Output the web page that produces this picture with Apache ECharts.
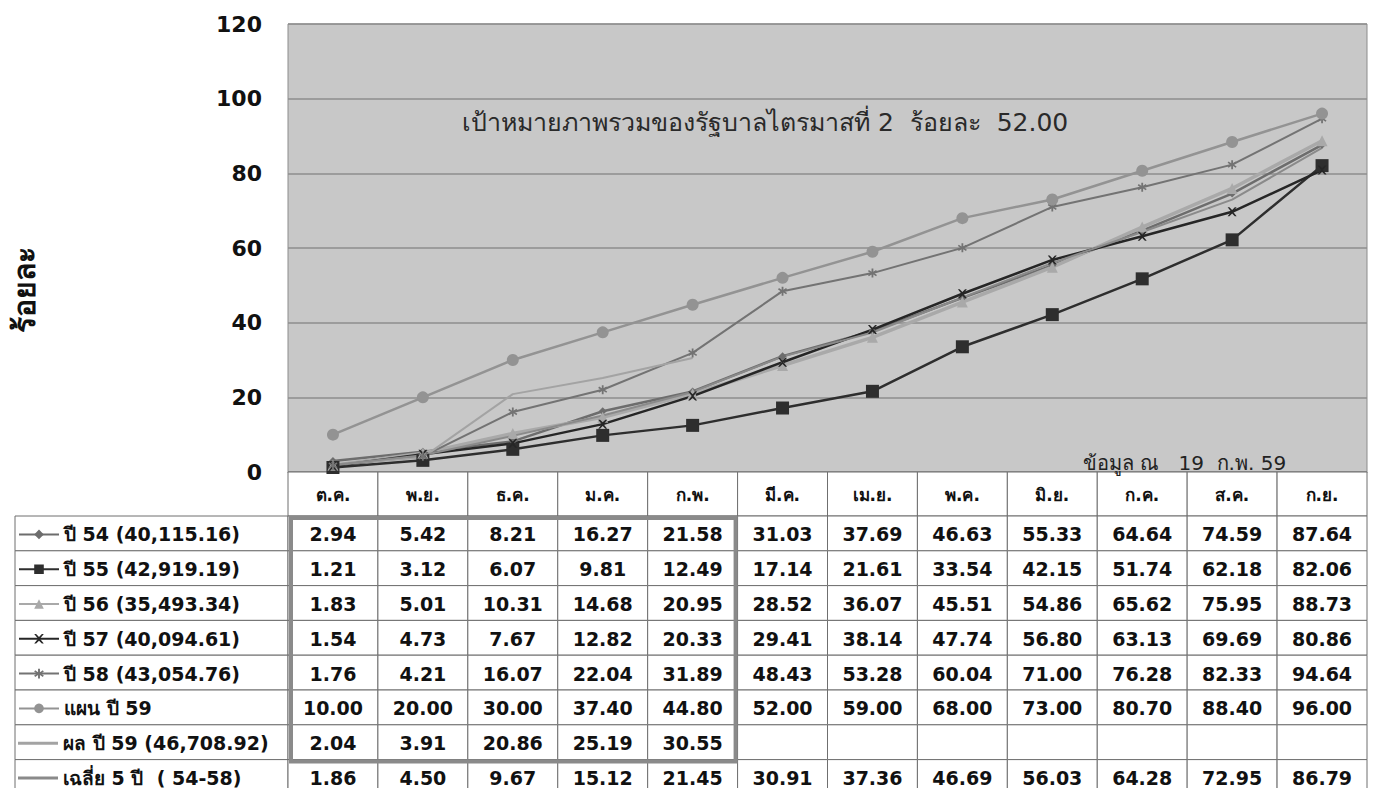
<!DOCTYPE html>
<html>
<head>
<meta charset="utf-8">
<script src="https://cdn.jsdelivr.net/npm/echarts@6/dist/echarts.min.js"></script>
<style>
  html, body { margin: 0; padding: 0; background: #fff; }
  #chart { width: 1375px; height: 788px; }
</style>
</head>
<body>
<div id="chart"></div>
<script>
// เดือนตามปีงบประมาณ
const months = ['ต.ค.', 'พ.ย.', 'ธ.ค.', 'ม.ค.', 'ก.พ.', 'มี.ค.', 'เม.ย.', 'พ.ค.', 'มิ.ย.', 'ก.ค.', 'ส.ค.', 'ก.ย.'];
const yTicks = [0, 20, 40, 60, 80, 100, 120];

const y54 = [2.94, 5.42, 8.21, 16.27, 21.58, 31.03, 37.69, 46.63, 55.33, 64.64, 74.59, 87.64];
const y55 = [1.21, 3.12, 6.07, 9.81, 12.49, 17.14, 21.61, 33.54, 42.15, 51.74, 62.18, 82.06];
const y56 = [1.83, 5.01, 10.31, 14.68, 20.95, 28.52, 36.07, 45.51, 54.86, 65.62, 75.95, 88.73];
const y57 = [1.54, 4.73, 7.67, 12.82, 20.33, 29.41, 38.14, 47.74, 56.80, 63.13, 69.69, 80.86];
const y58 = [1.76, 4.21, 16.07, 22.04, 31.89, 48.43, 53.28, 60.04, 71.00, 76.28, 82.33, 94.64];
const plan59 = [10.00, 20.00, 30.00, 37.40, 44.80, 52.00, 59.00, 68.00, 73.00, 80.70, 88.40, 96.00];
const result59 = [2.04, 3.91, 20.86, 25.19, 30.55, null, null, null, null, null, null, null];
const avg5 = [1.86, 4.50, 9.67, 15.12, 21.45, 30.91, 37.36, 46.69, 56.03, 64.28, 72.95, 86.79];

const seriesNames = [
  'ปี 54 (40,115.16)',
  'ปี 55 (42,919.19)',
  'ปี 56 (35,493.34)',
  'ปี 57 (40,094.61)',
  'ปี 58 (43,054.76)',
  'แผน ปี 59',
  'ผล ปี 59 (46,708.92)',
  'เฉลี่ย 5 ปี  ( 54-58)'
];
const seriesData = [y54, y55, y56, y57, y58, plan59, result59, avg5];

const FONT = '"DejaVu Sans", "Noto Sans", sans-serif';
const crossPath = 'path://M0,0 L2,0 L5,3 L8,0 L10,0 L6,5 L10,10 L8,10 L5,7 L2,10 L0,10 L4,5 Z';
const starPath = 'path://M4,0 L6,0 L6,3.5 L9,1.5 L10,3 L7,5 L10,7 L9,8.5 L6,6.5 L6,10 L4,10 L4,6.5 L1,8.5 L0,7 L3,5 L0,3 L1,1.5 L4,3.5 Z';
const plainLine = 'path://M0,0 L40,0 L40,3 L0,3 Z';

const styles = [
  { color: '#6d6d6d', symbol: 'diamond', size: 8, width: 2.5 },
  { color: '#2e2e2e', symbol: 'rect', size: 13, width: 2.5 },
  { color: '#a9a9a9', symbol: 'triangle', size: 11, width: 3.5 },
  { color: '#262626', symbol: crossPath, size: 9, width: 2.5 },
  { color: '#737373', symbol: starPath, size: 9, width: 2 },
  { color: '#939393', symbol: 'circle', size: 12, width: 2.5 },
  { color: '#a3a3a3', symbol: 'none', size: 0, width: 2 },
  { color: '#8a8a8a', symbol: 'none', size: 0, width: 2 }
];

// ขนาดตาราง
const HEAD_H = 44;
const ROW_H = 34.8;
const TABLE_TOP = 472;
const ROW_TOP = TABLE_TOP + HEAD_H;

const chart = echarts.init(document.getElementById('chart'), null, { renderer: 'svg' });

const option = {
  animation: false,
  textStyle: { fontFamily: FONT },
  grid: {
    left: 288, right: 8, top: 24, bottom: 788 - TABLE_TOP,
    show: true, backgroundColor: '#c8c8c8', borderColor: '#8c8c8c', borderWidth: 1
  },
  // หนึ่ง legend ต่อหนึ่งแถวของตาราง
  legend: seriesNames.map((name, r) => ({
    orient: 'horizontal',
    left: 18,
    top: ROW_TOP + r * ROW_H + ROW_H / 2 - 9,
    padding: 0,
    itemWidth: 40, itemHeight: 12,
    selectedMode: false,
    textStyle: { fontFamily: FONT, fontWeight: 'bold', fontSize: 19, color: '#111', lineHeight: 20 },
    data: [styles[r].symbol === 'none'
      ? { name: name, icon: plainLine, itemStyle: { color: styles[r].color } }
      : name]
  })),
  xAxis: {
    type: 'category',
    data: months,
    boundaryGap: true,
    axisLine: { lineStyle: { color: '#777', width: 1 } },
    axisTick: { show: false },
    axisLabel: { show: false },
    splitLine: { show: false }
  },
  yAxis: {
    type: 'value',
    min: yTicks[0], max: yTicks[yTicks.length - 1], interval: 20,
    axisLine: { show: false },
    axisTick: { show: false },
    axisLabel: { margin: 26, fontFamily: FONT, fontWeight: 'bold', fontSize: 22, color: '#111' },
    splitLine: { lineStyle: { color: '#8e8e8e', width: 1.5 } }
  },
  series: seriesNames.map((name, i) => ({
    name: name,
    type: 'line',
    data: seriesData[i],
    symbol: styles[i].symbol,
    symbolSize: styles[i].size,
    showSymbol: styles[i].symbol !== 'none',
    lineStyle: { color: styles[i].color, width: styles[i].width },
    itemStyle: { color: styles[i].color },
    connectNulls: false,
    z: 3
  }))
};

chart.setOption(option);

// ตารางข้อมูลใต้กราฟ
function buildTable() {
  const c0 = chart.convertToPixel({ xAxisIndex: 0 }, 0);
  const c1 = chart.convertToPixel({ xAxisIndex: 0 }, 1);
  const cw = c1 - c0;
  const x0 = c0 - cw / 2;
  const headTop = chart.convertToPixel({ yAxisIndex: 0 }, 0);
  const rowTop = headTop + HEAD_H;
  const els = [];
  const border = { stroke: '#6f6f6f', lineWidth: 1 };

  months.forEach((m, i) => {
    const cx = chart.convertToPixel({ xAxisIndex: 0 }, i);
    els.push({ type: 'rect', z: 1, shape: { x: cx - cw / 2, y: headTop, width: cw, height: HEAD_H },
      style: Object.assign({ fill: '#fff' }, border) });
    els.push({ type: 'text', z: 6, x: cx, y: headTop + HEAD_H / 2 + 1,
      style: { text: m, font: 'bold 17px ' + FONT, fill: '#111', align: 'center', verticalAlign: 'middle' } });
  });

  seriesData.forEach((row, r) => {
    const y = rowTop + r * ROW_H;
    els.push({ type: 'rect', z: 1, shape: { x: 15, y: y, width: x0 - 15, height: ROW_H },
      style: Object.assign({ fill: '#fff' }, border) });
    row.forEach((v, i) => {
      const cx = chart.convertToPixel({ xAxisIndex: 0 }, i);
      els.push({ type: 'rect', z: 1, shape: { x: cx - cw / 2, y: y, width: cw, height: ROW_H },
        style: Object.assign({ fill: '#fff' }, border) });
      if (v !== null) {
        els.push({ type: 'text', z: 6, x: cx, y: y + ROW_H / 2 + 1,
          style: { text: v.toFixed(2), font: 'bold 19px ' + FONT, fill: '#111', align: 'center', verticalAlign: 'middle' } });
      }
    });
  });

  // กรอบเน้นช่วงข้อมูลจริง ต.ค. - ก.พ.
  const bx1 = chart.convertToPixel({ xAxisIndex: 0 }, 0) - cw / 2 + 3;
  const bx2 = chart.convertToPixel({ xAxisIndex: 0 }, 4) + cw / 2 - 2;
  els.push({ type: 'rect', z: 7, shape: { x: bx1, y: rowTop + 2, width: bx2 - bx1, height: ROW_H * 7 },
    style: { fill: 'none', stroke: '#8a8a8a', lineWidth: 4 } });

  els.push({ type: 'text', z: 6, x: 462, y: 122,
    style: { text: 'เป้าหมายภาพรวมของรัฐบาลไตรมาสที่ 2  ร้อยละ  52.00', font: '25px ' + FONT, fill: '#2a2a2a', verticalAlign: 'middle' } });
  els.push({ type: 'text', z: 6, x: 1083, y: 463,
    style: { text: 'ข้อมูล ณ   19  ก.พ. 59', font: '20px ' + FONT, fill: '#222', verticalAlign: 'middle' } });
  // ชื่อแกนตั้ง
  els.push({ type: 'text', z: 6, x: 24, y: 290, rotation: Math.PI / 2,
    style: { text: 'ร้อยละ', font: 'bold 30px ' + FONT, fill: '#111', align: 'center', verticalAlign: 'middle' } });

  chart.setOption({ graphic: { elements: els } });
}
buildTable();
</script>
</body>
</html>
